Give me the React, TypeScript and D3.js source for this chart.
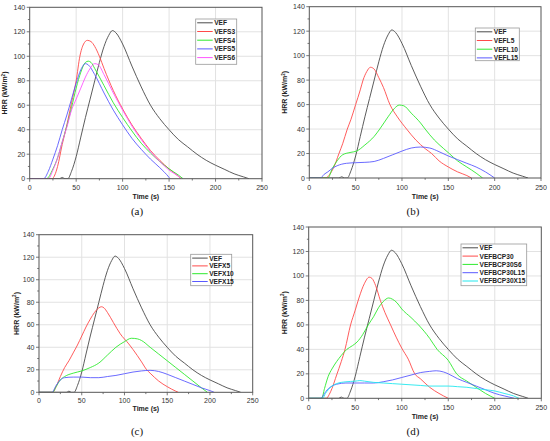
import React from "react";
import * as d3 from "d3";

type Pt = [number, number];

// ---------- data (time s, HRR kW/m²) ----------
const vef: Pt[] = [[0,0],[20,0],[32,0],[35,1],[38,0],[41,0],[45,6],[50,18],[55,34],[60,50],[65,65],[70,80],[75,95],[80,108],[85,117],[89,121],[93,119],[100,110],[110,92],[120,75],[130,60],[140,49],[150,40],[160,32],[170,26],[180,20],[190,15],[200,11],[210,7.5],[220,4],[230,1.5],[236,0]];

const vefs3: Pt[] = [[0,0],[24,0],[27,3],[30,10],[35,28],[40,44],[45,62],[50,80],[54,100],[58,110],[62,113],[66,112],[70,108],[75,100],[80,90],[90,72],[100,57],[110,44],[120,33],[130,23],[140,15],[150,8],[160,2],[163,0]];
const vefs4: Pt[] = [[0,0],[18,0],[25,8],[30,17],[35,30],[40,43],[45,58],[50,74],[55,87],[60,95],[63,96],[66,95],[70,90],[80,76],[90,62],[100,50],[110,39],[120,29],[130,21],[140,14],[150,8],[160,3],[165,0]];
const vefs5: Pt[] = [[0,0],[15,0],[20,6],[25,16],[30,27],[35,40],[40,52],[45,65],[50,78],[55,89],[60,94],[63,93],[70,85],[80,70],[90,56],[100,44],[110,33],[120,24],[130,16],[140,9],[150,1],[151,0]];
const vefs6: Pt[] = [[0,0],[20,0],[25,7],[30,17],[35,30],[40,42],[45,56],[50,65],[55,74],[60,83],[65,90],[70,94],[74,93],[80,85],[90,70],[100,56],[110,43],[120,32],[130,22],[140,14],[150,7],[160,2],[163,0]];

const vefl5: Pt[] = [[0,0],[18,0],[22,3],[26,8],[32,20],[36,28],[41,40],[45,48],[50,60],[55,72],[58,80],[62,87],[66,90.5],[70,89],[75,82],[80,74],[87,60],[95,50],[105,40],[115,31],[125,24],[132,20],[140,14],[150,9],[160,5],[170,2],[175,0]];
const vefl10: Pt[] = [[0,0],[20,0],[25,8],[30,14],[36,19],[45,21],[51,22],[60,27],[70,34],[76,40],[85,50],[92,57],[97,59.6],[102,59],[110,53],[120,45],[125,40],[135,31],[145,24],[151,20],[160,14],[170,9],[180,4],[187,0]];
const vefl15: Pt[] = [[0,0],[12,0],[16,3],[20,5],[25,8],[30,10],[40,12],[50,12.5],[60,12.8],[70,13.5],[80,16],[90,19],[100,22],[110,24.5],[120,25.3],[130,24.5],[140,21.5],[150,18],[160,15],[170,12],[180,9],[190,5],[200,0]];

const vefx5: Pt[] = [[0,0],[16,0],[20,5],[25,14],[30,22],[35,28],[40,35],[45,42],[50,50],[55,58],[60,65],[65,71],[70,75],[73,76],[76,75],[80,71],[87,62],[95,52],[105,43],[110,38],[120,27],[126,20],[130,17],[140,10],[150,5],[160,1],[163,0]];
const vefx10: Pt[] = [[0,0],[16,0],[20,5],[25,11],[30,14],[40,17],[50,19],[60,22],[70,26],[80,33],[90,40],[100,45],[108,48],[115,47.5],[120,46],[130,40],[140,34],[150,28],[160,22],[170,16],[180,10],[190,4],[197,0]];
const vefx15: Pt[] = [[0,0],[15,0],[20,6],[25,11],[30,13],[40,13.5],[50,13.5],[60,13],[70,13],[80,14],[90,15],[100,16.5],[110,18],[120,19],[130,19.5],[140,18.5],[150,16],[160,13],[170,10],[180,7],[190,4],[200,1.5],[205,0]];

const vefbcp30: Pt[] = [[0,0],[19,0],[22,3],[25,8],[30,19],[35,30],[39,40],[45,60],[50,72],[54,82],[60,94],[65,99],[68,98],[72,92],[77,80],[82,70],[88,60],[94,50],[100,41],[107,32],[114,20],[120,16],[130,9],[140,4],[150,0]];
const vefbcp30s6: Pt[] = [[0,0],[14,0],[17,8],[21,18],[25,24],[30,30],[35,35],[41,40],[47,43],[52,46],[58,52],[64,60],[70,67],[75,74],[80,79],[86,82],[90,81],[95,78],[100,73],[110,66],[118,60],[130,49],[138,40],[150,31],[159,20],[170,14],[180,9],[190,4],[200,0]];
const vefbcp30l15: Pt[] = [[0,0],[13,0],[17,4],[20,7],[25,10],[30,11.5],[40,12.5],[50,12.5],[60,12.5],[70,12.5],[80,13.5],[90,15],[100,17],[110,19],[120,21],[130,22],[137,22.5],[145,21.5],[150,20],[160,16],[170,13],[180,10],[190,7],[200,4],[210,2],[221,0]];
const vefbcp30x15: Pt[] = [[0,0],[15,0],[18,4],[21,7],[25,10],[30,12],[40,13.5],[50,14],[55,14.5],[60,14],[70,13],[80,12.5],[90,12],[100,11.5],[110,11],[120,10.5],[130,10],[150,10],[160,9.5],[170,9],[180,8],[190,7],[200,6],[210,4],[220,2],[226,0]];

const namesA = ["VEF", "VEFS3", "VEFS4", "VEFS5", "VEFS6"];
const namesB = ["VEF", "VEFL5", "VEFL10", "VEFL15"];
const namesC = ["VEF", "VEFX5", "VEFX10", "VEFX15"];
const namesD = ["VEF", "VEFBCP30", "VEFBCP30S6", "VEFBCP30L15", "VEFBCP30X15"];

const xTicks = [0, 50, 100, 150, 200, 250];
const yTicks = [0, 20, 40, 60, 80, 100, 120, 140];
const panelLabels = ["(a)", "(b)", "(c)", "(d)"];

// ---------- styles ----------
const COL = {
  gray: "#4a4a4a",
  red: "#ff4a4a",
  green: "#2eea2e",
  blue: "#5a5aff",
  magenta: "#ff55ff",
  cyan: "#22e8ee",
};

type Layout = {
  x0: number; x1: number; y0: number; y1: number;
  leg: { x: number; y: number; w: number; h: number; row: number };
  hrrX: number; timeY: number; tickY: number; label: [number, number];
};

const layouts: Layout[] = [
  { x0: 29.7, x1: 262, y0: 178.7, y1: 7.3, leg: { x: 195.7, y: 19, w: 41, h: 45.3, row: 8.7 }, hrrX: 7, timeY: 199, tickY: 190, label: [137, 215] },
  { x0: 309.3, x1: 541, y0: 178, y1: 6.7, leg: { x: 475.3, y: 28, w: 44, h: 32.7, row: 8.7 }, hrrX: 287, timeY: 198.5, tickY: 189.5, label: [413, 215] },
  { x0: 39, x1: 252.7, y0: 392.3, y1: 234.7, leg: { x: 190.7, y: 254.3, w: 41, h: 31.4, row: 7.8 }, hrrX: 18.5, timeY: 411, tickY: 402.5, label: [137, 435] },
  { x0: 308.7, x1: 541.3, y0: 398.3, y1: 227, leg: { x: 461, y: 244, w: 65.7, h: 41.7, row: 8.3 }, hrrX: 286.5, timeY: 419, tickY: 409.5, label: [413, 435] },
];

const panelSeries: { data: Pt[]; color: string }[][] = [
  [{ data: vef, color: COL.gray }, { data: vefs3, color: COL.red }, { data: vefs4, color: COL.green }, { data: vefs5, color: COL.blue }, { data: vefs6, color: COL.magenta }],
  [{ data: vef, color: COL.gray }, { data: vefl5, color: COL.red }, { data: vefl10, color: COL.green }, { data: vefl15, color: COL.blue }],
  [{ data: vef, color: COL.gray }, { data: vefx5, color: COL.red }, { data: vefx10, color: COL.green }, { data: vefx15, color: COL.blue }],
  [{ data: vef, color: COL.gray }, { data: vefbcp30, color: COL.red }, { data: vefbcp30s6, color: COL.green }, { data: vefbcp30l15, color: COL.blue }, { data: vefbcp30x15, color: COL.cyan }],
];
const panelNames = [namesA, namesB, namesC, namesD];

const FONT = "'Liberation Sans', Arial, sans-serif";

function Panel({ i }: { i: number }) {
  const L = layouts[i];
  const x = d3.scaleLinear().domain([0, 250]).range([L.x0, L.x1]);
  const y = d3.scaleLinear().domain([0, 140]).range([L.y0, L.y1]);
  const line = d3.line<Pt>().x((d) => x(d[0])).y((d) => y(d[1])).curve(d3.curveMonotoneX);
  const series = panelSeries[i];
  const names = panelNames[i];
  const xMinor = d3.range(0, 251, 25);
  const yMinor = d3.range(0, 141, 10);
  const midY = (L.y0 + L.y1) / 2;
  const midX = (L.x0 + L.x1) / 2;
  return (
    <g>
      {/* grid */}
      {xTicks.slice(1, -1).map((t) => (
        <line key={"gx" + t} x1={x(t)} x2={x(t)} y1={L.y0} y2={L.y1} stroke="#e2e2e2" strokeWidth={1} />
      ))}
      {yTicks.slice(1, -1).map((t) => (
        <line key={"gy" + t} x1={L.x0} x2={L.x1} y1={y(t)} y2={y(t)} stroke="#e2e2e2" strokeWidth={1} />
      ))}
      {/* curves */}
      <g clipPath={`url(#clip${i})`}>
        {series.map((s, k) => (
          <path key={k} d={line(s.data) || ""} fill="none" stroke={s.color} strokeWidth={0.9} />
        ))}
      </g>
      {/* frame */}
      <rect x={L.x0} y={L.y1} width={L.x1 - L.x0} height={L.y0 - L.y1} fill="none" stroke="#555" strokeWidth={1} />
      {/* ticks */}
      {xMinor.map((t) => (
        <line key={"tx" + t} x1={x(t)} x2={x(t)} y1={L.y0} y2={L.y0 + (t % 50 === 0 ? 3 : 1.8)} stroke="#555" strokeWidth={0.8} />
      ))}
      {yMinor.map((t) => (
        <line key={"ty" + t} x1={L.x0} x2={L.x0 - (t % 20 === 0 ? 3 : 1.8)} y1={y(t)} y2={y(t)} stroke="#555" strokeWidth={0.8} />
      ))}
      {xTicks.map((t) => (
        <text key={"lx" + t} x={x(t)} y={L.tickY} textAnchor="middle" fontSize={7} fill="#333" fontFamily={FONT}>{t}</text>
      ))}
      {yTicks.map((t) => (
        <text key={"ly" + t} x={L.x0 - 4.5} y={y(t) + 2.5} textAnchor="end" fontSize={7} fill="#333" fontFamily={FONT}>{t}</text>
      ))}
      {/* axis titles */}
      <text x={midX} y={L.timeY} textAnchor="middle" fontSize={7} fontWeight="bold" fill="#222" fontFamily={FONT}>Time (s)</text>
      <text transform={`translate(${L.hrrX},${midY}) rotate(-90)`} textAnchor="middle" fontSize={7} fontWeight="bold" fill="#222" fontFamily={FONT}>
        HRR (kW/m<tspan dy={-2.5} fontSize={4.5}>2</tspan><tspan dy={2.5}>)</tspan>
      </text>
      {/* legend */}
      <rect x={L.leg.x} y={L.leg.y} width={L.leg.w} height={L.leg.h} fill="#fff" stroke="#999" strokeWidth={0.8} />
      {names.map((n, k) => {
        const cy = L.leg.y + 3.8 + k * L.leg.row;
        return (
          <g key={n}>
            <line x1={L.leg.x + 1.5} x2={L.leg.x + 17} y1={cy} y2={cy} stroke={series[k].color} strokeWidth={1} />
            <text x={L.leg.x + 18.5} y={cy + 2.4} fontSize={6.6} fontWeight="bold" fill="#222" fontFamily={FONT}>{n}</text>
          </g>
        );
      })}
      {/* panel label */}
      <text x={L.label[0]} y={L.label[1]} textAnchor="middle" fontSize={11} fill="#111" fontFamily="'Liberation Serif', 'Times New Roman', serif">{panelLabels[i]}</text>
    </g>
  );
}

export default function App() {
  return (
    <svg width={550} height={441} viewBox="0 0 550 441" style={{ position: "absolute", left: 0, top: 0, background: "#fff" }}>
      <defs>
        {layouts.map((L, i) => (
          <clipPath key={i} id={`clip${i}`}>
            <rect x={L.x0} y={L.y1} width={L.x1 - L.x0} height={L.y0 - L.y1} />
          </clipPath>
        ))}
      </defs>
      <rect x={0} y={0} width={550} height={441} fill="#fff" />
      {[0, 1, 2, 3].map((i) => (
        <Panel key={i} i={i} />
      ))}
    </svg>
  );
}
